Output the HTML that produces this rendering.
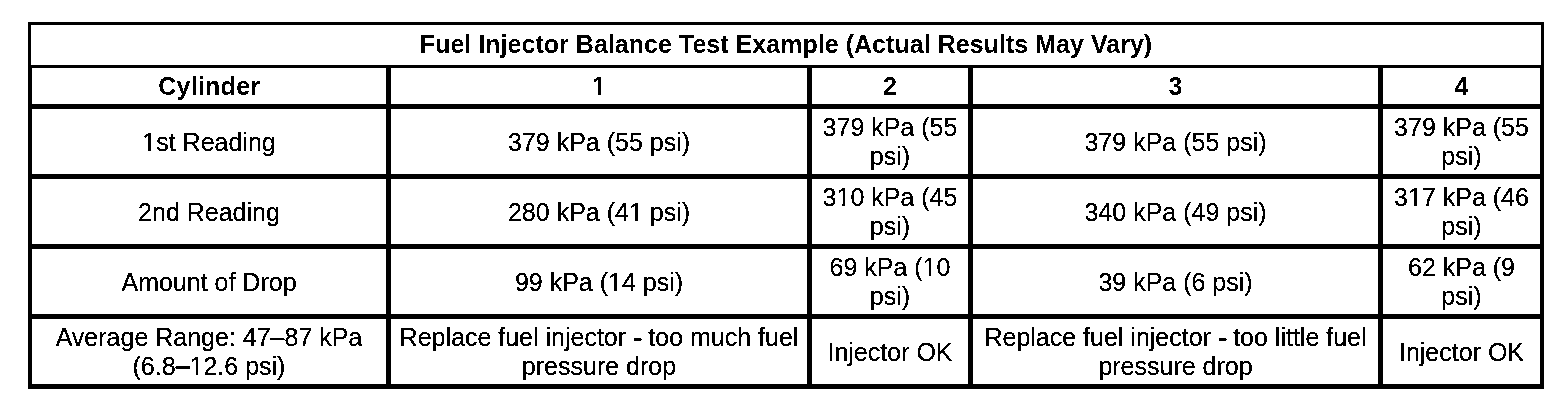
<!DOCTYPE html>
<html><head><meta charset="utf-8"><title>Fuel Injector Balance Test Example</title>
<style>
html,body{margin:0;padding:0;background:#fff;}
body{width:1568px;height:400px;position:relative;overflow:hidden;will-change:transform;font-family:"Liberation Sans",Arial,sans-serif;color:#000;}
.l{position:absolute;background:#000;}
.c{position:absolute;display:flex;align-items:center;justify-content:center;text-align:center;font-size:25px;line-height:28.75px;white-space:nowrap;}
.c b{font-weight:bold;}
.t{font-weight:bold;letter-spacing:0.035px;}
.c{filter:url(#bin);}
.bb{filter:url(#binb);}
.o{clip-path:polygon(-1em -1em,2em -1em,2em 0.83em,0.345em 0.83em,0.345em 2em,0.246em 2em,0.246em 0.83em,-1em 0.83em);}
.ob{clip-path:polygon(-1em -1em,2em -1em,2em 0.80em,0.376em 0.80em,0.376em 2em,0.228em 2em,0.228em 0.80em,-1em 0.80em);}
.d{text-shadow:0 -1px 0 #000;}
.h{text-shadow:0 1px 0 #000,1px 0 0 #000,1px 1px 0 #000;}
</style></head><body>
<svg width="0" height="0" style="position:absolute"><filter id="bin" x="0" y="0" width="100%" height="100%" color-interpolation-filters="sRGB"><feComponentTransfer><feFuncA type="discrete" tableValues="0 1 1"/></feComponentTransfer></filter><filter id="binb" x="0" y="0" width="100%" height="100%" color-interpolation-filters="sRGB"><feComponentTransfer><feFuncA type="discrete" tableValues="0 1"/></feComponentTransfer></filter></svg>

<div class="l" style="left:28px;top:22px;width:1516px;height:3px"></div>
<div class="l" style="left:28px;top:65px;width:1516px;height:3px"></div>
<div class="l" style="left:28px;top:104px;width:1516px;height:5px"></div>
<div class="l" style="left:28px;top:174px;width:1516px;height:5px"></div>
<div class="l" style="left:28px;top:244px;width:1516px;height:5px"></div>
<div class="l" style="left:28px;top:314px;width:1516px;height:5px"></div>
<div class="l" style="left:28px;top:384px;width:1516px;height:5px"></div>
<div class="l" style="left:28px;top:22px;width:3px;height:46px"></div>
<div class="l" style="left:1541px;top:22px;width:3px;height:46px"></div>
<div class="l" style="left:28px;top:65px;width:4px;height:324px"></div>
<div class="l" style="left:1540px;top:65px;width:4px;height:324px"></div>
<div class="l" style="left:386px;top:65px;width:5px;height:324px"></div>
<div class="l" style="left:807px;top:65px;width:5px;height:324px"></div>
<div class="l" style="left:968px;top:65px;width:5px;height:324px"></div>
<div class="l" style="left:1378px;top:65px;width:5px;height:324px"></div>
<div class="c t bb" style="left:31px;top:24px;width:1510px;height:40px">Fuel Injector Balance Test Example (Actual Results May Vary)</div>
<div class="c bb" style="left:32px;top:68px;width:354px;height:36px"><div><b style="letter-spacing:0.25px;margin-left:0.5px">Cylinder</b></div></div>
<div class="c bb" style="left:391px;top:68px;width:416px;height:36px"><div><b class="ob">1</b></div></div>
<div class="c bb" style="left:812px;top:68px;width:156px;height:36px"><div><b>2</b></div></div>
<div class="c bb" style="left:973px;top:68px;width:405px;height:36px"><div><b>3</b></div></div>
<div class="c bb" style="left:1383px;top:68px;width:157px;height:36px"><div><b>4</b></div></div>
<div class="c" style="left:32px;top:110px;width:354px;height:65px"><div><span class="o">1</span>st Reading</div></div>
<div class="c" style="left:391px;top:110px;width:416px;height:65px"><div>379 kPa (55 psi)</div></div>
<div class="c" style="left:812px;top:109px;width:156px;height:65px"><div>379 kPa (55<br>psi)</div></div>
<div class="c" style="left:973px;top:110px;width:405px;height:65px"><div>379 kPa (55 psi)</div></div>
<div class="c" style="left:1383px;top:109px;width:157px;height:65px"><div>379 kPa (55<br>psi)</div></div>
<div class="c" style="left:32px;top:180px;width:354px;height:65px"><div>2nd Reading</div></div>
<div class="c" style="left:391px;top:180px;width:416px;height:65px"><div>280 kPa (4<span class="o">1</span> psi)</div></div>
<div class="c" style="left:812px;top:179px;width:156px;height:65px"><div>3<span class="o">1</span>0 kPa (45<br>psi)</div></div>
<div class="c" style="left:973px;top:180px;width:405px;height:65px"><div>340 kPa (49 psi)</div></div>
<div class="c" style="left:1383px;top:179px;width:157px;height:65px"><div>3<span class="o">1</span>7 kPa (46<br>psi)</div></div>
<div class="c" style="left:32px;top:250px;width:354px;height:65px"><div>Amount of Drop</div></div>
<div class="c" style="left:391px;top:250px;width:416px;height:65px"><div>99 kPa (<span class="o">1</span>4 psi)</div></div>
<div class="c" style="left:812px;top:249px;width:156px;height:65px"><div>69 kPa (<span class="o">1</span>0<br>psi)</div></div>
<div class="c" style="left:973px;top:250px;width:405px;height:65px"><div>39 kPa (6 psi)</div></div>
<div class="c" style="left:1383px;top:249px;width:157px;height:65px"><div>62 kPa (9<br>psi)</div></div>
<div class="c" style="left:32px;top:319px;width:354px;height:65px"><div>Average Range: 47&#8211;87 kPa<br>(6.8<span class="d">&#8211;</span><span class="o">1</span>2.6 psi)</div></div>
<div class="c" style="left:391px;top:319px;width:416px;height:65px"><div>Replace fuel injector <span class="h">-</span> too much fuel<br>pressure drop</div></div>
<div class="c" style="left:812px;top:320px;width:156px;height:65px"><div>Injector OK</div></div>
<div class="c" style="left:973px;top:319px;width:405px;height:65px"><div>Replace fuel injector <span class="h">-</span> too little fuel<br>pressure drop</div></div>
<div class="c" style="left:1383px;top:320px;width:157px;height:65px"><div>Injector OK</div></div>
</body></html>
